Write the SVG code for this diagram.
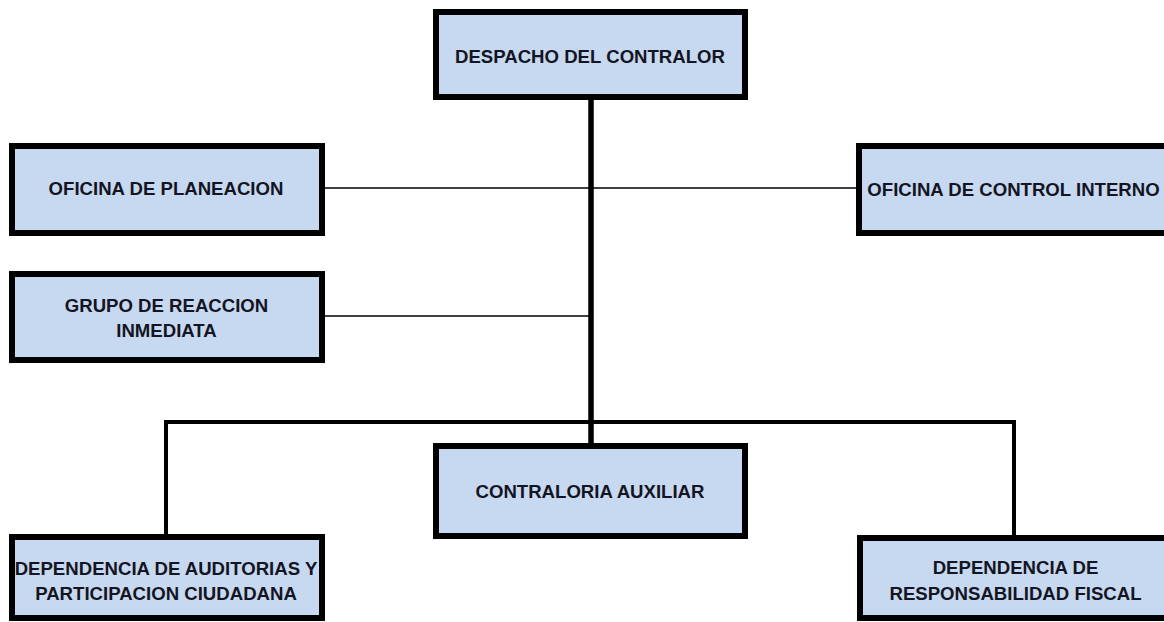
<svg xmlns="http://www.w3.org/2000/svg" width="1164" height="622" viewBox="0 0 1164 622">
<style>
.box{fill:#c6d9f0;stroke:#000;stroke-width:6}
.t{font-family:"Liberation Sans",Arial,sans-serif;font-weight:bold;font-size:18.6px;fill:#141422;text-anchor:middle}
.thick{stroke:#000;fill:none;stroke-width:4;stroke-linejoin:miter;stroke-linecap:square}
.trunk{stroke:#000;fill:none;stroke-width:5.5}
.thin{stroke:#000;fill:none;stroke-width:1.5}
</style>
<rect width="1164" height="622" fill="#fff"/>
<g id="connectors">
<line class="trunk" x1="591" y1="98" x2="591" y2="445"/>
<line class="thin" x1="322" y1="188" x2="859" y2="188"/>
<line class="thin" x1="322" y1="316" x2="591" y2="316"/>
<polyline class="thick" points="166,536 166,422 1014,422 1014,537"/>
</g>
<g id="despacho">
<rect class="box" x="436" y="12" width="309" height="85"/>
<text class="t" x="590" y="62.5">DESPACHO DEL CONTRALOR</text>
</g>
<g id="planeacion">
<rect class="box" x="12" y="146" width="310" height="87"/>
<text class="t" x="166" y="195">OFICINA DE PLANEACION</text>
</g>
<g id="control-interno">
<rect class="box" x="859" y="146" width="320" height="87"/>
<text class="t" x="1013.5" y="196">OFICINA DE CONTROL INTERNO</text>
</g>
<g id="grupo-reaccion">
<rect class="box" x="12" y="274" width="310" height="86"/>
<text class="t" x="166.5" y="311.5">GRUPO DE REACCION</text>
<text class="t" x="166.5" y="336.5">INMEDIATA</text>
</g>
<g id="contraloria-auxiliar">
<rect class="box" x="436" y="446" width="309" height="90"/>
<text class="t" x="590" y="497.5">CONTRALORIA AUXILIAR</text>
</g>
<g id="auditorias">
<rect class="box" x="12" y="537" width="310" height="81"/>
<text class="t" x="166" y="575">DEPENDENCIA DE AUDITORIAS Y</text>
<text class="t" x="166" y="600">PARTICIPACION CIUDADANA</text>
</g>
<g id="responsabilidad-fiscal">
<rect class="box" x="860" y="538" width="320" height="80"/>
<text class="t" x="1015.5" y="573.5">DEPENDENCIA DE</text>
<text class="t" x="1015.5" y="600">RESPONSABILIDAD FISCAL</text>
</g>
</svg>
